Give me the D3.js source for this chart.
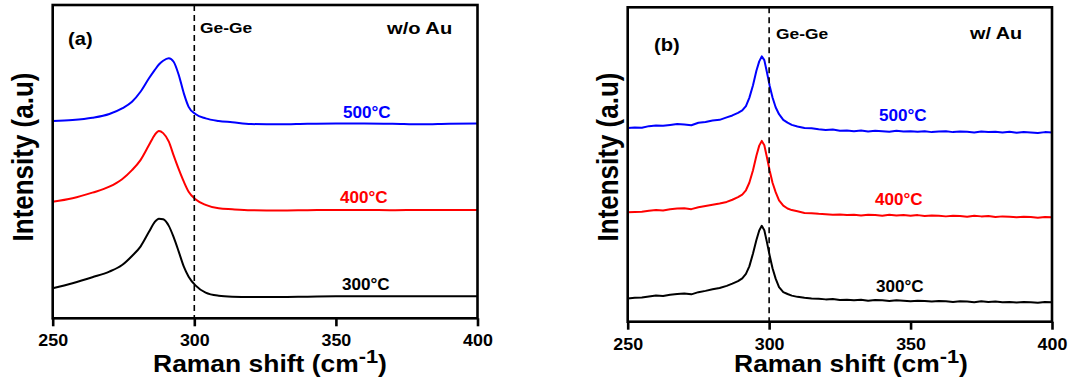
<!DOCTYPE html>
<html>
<head>
<meta charset="utf-8">
<script src="https://cdn.jsdelivr.net/npm/d3@7"></script>
<style>
  body { margin: 0; background: #fff; }
  svg { display: block; font-family: "Liberation Sans", Arial, sans-serif; font-weight: bold; }
</style>
</head>
<body>
<svg id="chart" width="1070" height="383"></svg>
<script>
// panel (a): w/o Au, smooth spectra
const xA = [250, 257, 264, 270, 274.5, 278, 281, 284, 286, 287.5, 289, 291, 292.7, 294.5, 296.3, 298, 300.4, 304, 308.6, 313.4, 320, 330, 340, 350, 360, 370, 380, 390, 400];
const a500 = [63.0, 63.3, 64.0, 65.2, 67.0, 69.1, 72.3, 76.6, 79.2, 81.0, 82.2, 83.0, 81.9, 77.7, 71.8, 67.5, 65.2, 63.8, 63.0, 62.6, 62.0, 61.9, 62.1, 62.2, 62.2, 62.1, 61.9, 62.1, 62.2];
const a400 = [37.2, 38.3, 40.1, 42.0, 44.4, 47.3, 50.5, 55.3, 58.5, 59.8, 59.1, 56.4, 52.0, 47.6, 43.6, 40.4, 38.0, 36.2, 35.1, 34.8, 34.5, 34.4, 34.5, 34.6, 34.6, 34.5, 34.6, 34.6, 34.6];
const a300 = [9.6, 11.2, 13.1, 14.9, 17.0, 19.9, 22.9, 27.6, 30.7, 31.8, 31.6, 29.5, 25.9, 21.3, 16.5, 13.3, 10.5, 8.2, 7.2, 6.9, 6.8, 6.8, 6.9, 7.0, 7.0, 7.0, 7.0, 7.0, 7.0];

// panel (b): w/ Au, noisier spectra
const xB = [250, 252.5, 255, 257.5, 260, 262.5, 265, 267.5, 270, 272.5, 275, 277.5, 280, 282.5, 285,
  287, 289, 290.5, 291.8, 293, 294.3, 295.5, 296.5, 297.4, 298.3, 299.2, 300.2, 301.2, 302.3, 303.5, 305, 306.5, 308,
  310, 312.5, 315, 317.5, 320, 322.5, 325, 327.5, 330, 332.5, 335, 337.5, 340, 342.5, 345, 347.5, 350, 352.5, 355, 357.5,
  360, 362.5, 365, 367.5, 370, 372.5, 375, 377.5, 380, 382.5, 385, 387.5, 390, 392.5, 395, 397.5, 400];
const b500 = [61.6, 61.8, 61.7, 62.2, 62.4, 62.3, 62.6, 62.9, 62.7, 62.5, 63.3, 63.5, 64.0, 64.2, 65.0,
  65.6, 66.4, 67.2, 68.6, 71.2, 75.2, 79.8, 82.8, 84.4, 83.2, 79.4, 75.0, 71.3, 68.2, 66.0, 64.2, 63.3, 62.6,
  62.1, 61.6, 61.5, 61.2, 61.0, 61.1, 60.7, 60.8, 60.6, 60.8, 60.5, 60.7, 60.6, 60.4, 60.7, 60.5, 60.6, 60.4, 60.6, 60.3,
  60.5, 60.6, 60.3, 60.5, 60.4, 60.2, 60.5, 60.3, 60.4, 60.2, 60.4, 60.1, 60.3, 60.2, 60.0, 60.3, 60.2];
const b400 = [34.8, 34.9, 35.0, 35.3, 35.5, 35.4, 35.8, 36.0, 36.1, 35.8, 36.4, 36.8, 37.2, 37.6, 38.1,
  38.8, 39.6, 40.4, 41.8, 44.2, 48.2, 52.8, 56.0, 57.5, 56.1, 52.4, 48.0, 44.2, 41.2, 38.6, 36.9, 36.0, 35.5,
  35.1, 34.6, 34.5, 34.3, 34.2, 34.0, 34.1, 33.9, 34.0, 33.8, 34.0, 33.9, 33.7, 34.0, 33.8, 33.9, 33.7, 33.9, 33.6, 33.8,
  33.7, 33.5, 33.7, 33.6, 33.4, 33.7, 33.5, 33.6, 33.3, 33.5, 33.4, 33.2, 33.4, 33.3, 33.1, 33.3, 33.2];
const b300 = [7.4, 7.6, 7.7, 8.0, 8.3, 8.2, 8.6, 8.8, 9.0, 8.7, 9.4, 9.8, 10.3, 10.7, 11.4,
  12.1, 12.9, 13.8, 15.2, 17.6, 21.7, 26.0, 29.0, 30.5, 29.1, 25.4, 21.0, 17.0, 13.7, 11.0, 9.4, 8.8, 8.3,
  7.9, 7.6, 7.4, 7.3, 7.1, 7.2, 6.9, 7.0, 6.8, 7.0, 6.7, 6.9, 6.8, 6.6, 6.8, 6.7, 6.5, 6.7, 6.6, 6.4,
  6.6, 6.5, 6.3, 6.5, 6.4, 6.2, 6.5, 6.3, 6.4, 6.2, 6.3, 6.1, 6.3, 6.2, 6.0, 6.3, 6.2];

const xTicks = [250, 300, 350, 400];
const tempLabels = ["500°C", "400°C", "300°C"];
const colors = ["#0000ff", "#ff0000", "#000000"];

const svg = d3.select("#chart");

const panels = [
  {
    left: 52.7, right: 477.5, top: 5, bottom: 318.3,
    xs: xA, series: [a500, a400, a300], curve: d3.curveMonotoneX,
    tag: "(a)", tagX: 68, tagY: 44.5,
    geX: 200, geY: 33.3,
    cond: "w/o Au", condX: 387, condY: 34, condSx: 1.22,
    tempX: [343, 340, 342], tempY: [117.5, 202.7, 290],
    yLabelX: 33, xLabelX: 270
  },
  {
    left: 627.7, right: 1052, top: 7.3, bottom: 321.7,
    xs: xB, series: [b500, b400, b300], curve: d3.curveLinear,
    tag: "(b)", tagX: 654, tagY: 51.3,
    geX: 776, geY: 39,
    cond: "w/ Au", condX: 970, condY: 39, condSx: 1.2,
    tempX: [879, 875, 876], tempY: [120.7, 205, 292.3],
    yLabelX: 618, xLabelX: 851
  }
];

panels.forEach((p) => {
  const x = d3.scaleLinear().domain([250, 400]).range([p.left, p.right]);
  const y = d3.scaleLinear().domain([0, 100]).range([p.bottom, p.top]);
  const g = svg.append("g");

  // spectra
  const line = d3.line()
    .x((d) => x(d[0]))
    .y((d) => y(d[1]))
    .curve(p.curve);
  p.series.forEach((vals, i) => {
    g.append("path")
      .datum(p.xs.map((v, j) => [v, vals[j]]))
      .attr("fill", "none")
      .attr("stroke", colors[i])
      .attr("stroke-width", 2)
      .attr("stroke-linejoin", "round")
      .attr("d", line);
  });

  // Ge-Ge reference line
  g.append("line")
    .attr("x1", x(300)).attr("x2", x(300))
    .attr("y1", p.top).attr("y2", p.bottom)
    .attr("stroke", "#000")
    .attr("stroke-width", 1.6)
    .attr("stroke-dasharray", "6,4");

  // frame
  g.append("rect")
    .attr("x", p.left).attr("y", p.top)
    .attr("width", p.right - p.left).attr("height", p.bottom - p.top)
    .attr("fill", "none")
    .attr("stroke", "#000")
    .attr("stroke-width", 2.6);

  // bottom axis
  const ax = g.append("g")
    .attr("transform", `translate(0,${p.bottom})`)
    .call(d3.axisBottom(x).tickValues(xTicks).tickSize(8).tickSizeOuter(0));
  ax.select(".domain").remove();
  ax.selectAll(".tick line").attr("stroke", "#000").attr("stroke-width", 2.6);
  ax.selectAll(".tick text")
    .attr("y", null).attr("dy", null)
    .attr("transform", "translate(0,28) scale(1.05,1)")
    .attr("fill", "#000")
    .attr("font-family", "Liberation Sans, Arial, sans-serif")
    .attr("font-weight", "bold")
    .attr("font-size", 17);

  // temperature labels
  tempLabels.forEach((t, i) => {
    g.append("text")
      .attr("transform", `translate(${p.tempX[i]},${p.tempY[i]}) scale(1.07,1)`)
      .attr("font-size", 16)
      .attr("fill", colors[i])
      .text(t);
  });

  g.append("text")
    .attr("transform", `translate(${p.tagX},${p.tagY}) scale(1.15,1)`)
    .attr("font-size", 17.5)
    .text(p.tag);

  g.append("text")
    .attr("transform", `translate(${p.geX},${p.geY}) scale(1.13,1)`)
    .attr("font-size", 15.4)
    .text("Ge-Ge");

  g.append("text")
    .attr("transform", `translate(${p.condX},${p.condY}) scale(${p.condSx},1)`)
    .attr("font-size", 16.5)
    .text(p.cond);

  // axis titles
  g.append("text")
    .attr("transform", `translate(${p.yLabelX},157) scale(1.15,1) rotate(-90)`)
    .attr("text-anchor", "middle")
    .attr("font-size", 26)
    .text("Intensity (a.u)");

  const xt = g.append("text")
    .attr("transform", `translate(${p.xLabelX},372) scale(1.15,1)`)
    .attr("text-anchor", "middle")
    .attr("font-size", 23);
  xt.append("tspan").text("Raman shift (cm");
  xt.append("tspan").attr("font-size", 19).attr("dy", -9).text("-1");
  xt.append("tspan").attr("dy", 9).text(")");
});
</script>
</body>
</html>
